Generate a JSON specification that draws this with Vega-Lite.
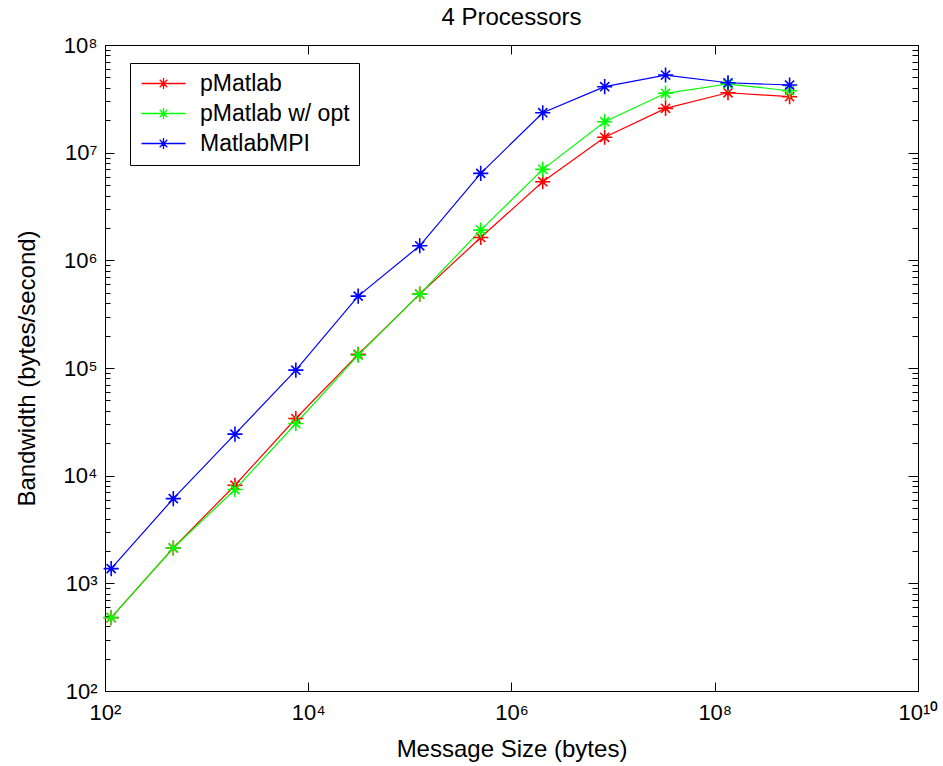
{
  "$schema": "https://vega.github.io/schema/vega-lite/v6.json",
  "width": 813,
  "height": 646,
  "autosize": {"type": "none"},
  "padding": {"left": 105, "top": 45, "right": 25, "bottom": 75},
  "background": "white",
  "config": {
    "view": {"stroke": "black", "strokeWidth": 1},
    "axis": {"grid": false, "domainColor": "black", "tickColor": "black", "labelColor": "black", "labelFont": "Liberation Sans", "titleFont": "Liberation Sans", "titleColor": "black", "titleFontWeight": "normal", "labelFlush": false, "labelOverlap": false, "labelBound": false}
  },
  "title": {"text": "4 Processors", "font": "Liberation Sans", "fontSize": 24, "fontWeight": "normal", "color": "black", "offset": 4},
  "data": {
    "values": [
      {"series": "pMatlab", "size": 115, "bw": 480},
      {"series": "pMatlab", "size": 470, "bw": 2130},
      {"series": "pMatlab", "size": 1900, "bw": 8150},
      {"series": "pMatlab", "size": 7550, "bw": 33950},
      {"series": "pMatlab", "size": 31000, "bw": 134000},
      {"series": "pMatlab", "size": 125000, "bw": 485000},
      {"series": "pMatlab", "size": 498000, "bw": 1630000},
      {"series": "pMatlab", "size": 2030000, "bw": 5370000},
      {"series": "pMatlab", "size": 8260000, "bw": 13900000},
      {"series": "pMatlab", "size": 32800000, "bw": 25800000},
      {"series": "pMatlab", "size": 135000000, "bw": 36000000},
      {"series": "pMatlab", "size": 545000000, "bw": 33100000},
      {"series": "pMatlab w/ opt", "size": 115, "bw": 480},
      {"series": "pMatlab w/ opt", "size": 470, "bw": 2130},
      {"series": "pMatlab w/ opt", "size": 1900, "bw": 7430},
      {"series": "pMatlab w/ opt", "size": 7550, "bw": 30500},
      {"series": "pMatlab w/ opt", "size": 31000, "bw": 131500},
      {"series": "pMatlab w/ opt", "size": 125000, "bw": 485000},
      {"series": "pMatlab w/ opt", "size": 498000, "bw": 1910000},
      {"series": "pMatlab w/ opt", "size": 2030000, "bw": 7000000},
      {"series": "pMatlab w/ opt", "size": 8260000, "bw": 19400000},
      {"series": "pMatlab w/ opt", "size": 32800000, "bw": 35600000},
      {"series": "pMatlab w/ opt", "size": 135000000, "bw": 43400000},
      {"series": "pMatlab w/ opt", "size": 545000000, "bw": 37600000},
      {"series": "MatlabMPI", "size": 115, "bw": 1370},
      {"series": "MatlabMPI", "size": 470, "bw": 6120},
      {"series": "MatlabMPI", "size": 1900, "bw": 24300},
      {"series": "MatlabMPI", "size": 7550, "bw": 95500},
      {"series": "MatlabMPI", "size": 31000, "bw": 465000},
      {"series": "MatlabMPI", "size": 125000, "bw": 1365000},
      {"series": "MatlabMPI", "size": 498000, "bw": 6420000},
      {"series": "MatlabMPI", "size": 2030000, "bw": 23500000},
      {"series": "MatlabMPI", "size": 8260000, "bw": 41000000},
      {"series": "MatlabMPI", "size": 32800000, "bw": 52600000},
      {"series": "MatlabMPI", "size": 135000000, "bw": 44600000},
      {"series": "MatlabMPI", "size": 545000000, "bw": 42500000}
    ]
  },
  "encoding": {
    "color": {
      "field": "series", "type": "nominal",
      "scale": {"domain": ["pMatlab", "pMatlab w/ opt", "MatlabMPI"], "range": ["#ff0000", "#00ff00", "#0000ff"]},
      "legend": {
        "orient": "none", "legendX": 25, "legendY": 18, "title": null,
        "strokeColor": "black", "fillColor": "white", "padding": 9, "cornerRadius": 0,
        "symbolType": "M-2.2,0L2.2,0M0,-0.55L0,0.55M-0.55,0L0.55,0M-0.38,-0.38L0.38,0.38M-0.38,0.38L0.38,-0.38",
        "symbolSize": 400, "symbolStrokeWidth": 1.3, "symbolFillColor": "transparent", "symbolOffset": 13,
        "labelFont": "Liberation Sans", "labelFontSize": 23, "labelColor": "black", "labelOffset": 25,
        "rowPadding": 6, "labelLimit": 400
      }
    }
  },
  "layer": [
    {
      "mark": {"type": "line", "strokeWidth": 1.2},
      "encoding": {
        "x": {"field": "size", "type": "quantitative",
          "scale": {"type": "log", "domain": [100, 10000000000], "nice": false},
          "axis": {"orient": "bottom", "values": [100, 10000, 1000000, 100000000, 10000000000],
            "labelExpr": "round(log(datum.value)/LN10) == 10 ? '10¹⁰' : '10' + ['⁰','¹','²','³','⁴','⁵','⁶','⁷','⁸','⁹'][round(log(datum.value)/LN10)]",
            "tickSize": -9, "labelPadding": 20, "labelFontSize": 22,
            "title": "Message Size (bytes)", "titleFontSize": 24, "titlePadding": 14}},
        "y": {"field": "bw", "type": "quantitative",
          "scale": {"type": "log", "domain": [100, 100000000], "nice": false},
          "axis": {"orient": "left",
            "values": [100,200,300,400,500,600,700,800,900,1000,2000,3000,4000,5000,6000,7000,8000,9000,10000,20000,30000,40000,50000,60000,70000,80000,90000,100000,200000,300000,400000,500000,600000,700000,800000,900000,1000000,2000000,3000000,4000000,5000000,6000000,7000000,8000000,9000000,10000000,20000000,30000000,40000000,50000000,60000000,70000000,80000000,90000000,100000000],
            "labelExpr": "abs(log(datum.value)/LN10 - round(log(datum.value)/LN10)) < 0.000001 ? '10' + ['⁰','¹','²','³','⁴','⁵','⁶','⁷','⁸','⁹'][round(log(datum.value)/LN10)] : ''",
            "tickSize": {"condition": {"test": "abs(log(datum.value)/LN10 - round(log(datum.value)/LN10)) < 0.000001", "value": -9}, "value": -5},
            "labelPadding": 17, "labelFontSize": 22,
            "title": "Bandwidth (bytes/second)", "titleFontSize": 24, "titlePadding": 24}}
      }
    },
    {
      "mark": {"type": "point", "shape": "M-1,0L1,0M0,-1L0,1M-0.6,-0.6L0.6,0.6M-0.6,0.6L0.6,-0.6", "filled": false, "size": 230, "strokeWidth": 1.6, "opacity": 1},
      "encoding": {
        "x": {"field": "size", "type": "quantitative",
          "scale": {"type": "log", "domain": [100, 10000000000], "nice": false},
          "axis": {"orient": "top", "values": [100, 10000, 1000000, 100000000, 10000000000], "labels": false, "tickSize": -9, "title": null}},
        "y": {"field": "bw", "type": "quantitative",
          "scale": {"type": "log", "domain": [100, 100000000], "nice": false},
          "axis": {"orient": "right",
            "values": [100,200,300,400,500,600,700,800,900,1000,2000,3000,4000,5000,6000,7000,8000,9000,10000,20000,30000,40000,50000,60000,70000,80000,90000,100000,200000,300000,400000,500000,600000,700000,800000,900000,1000000,2000000,3000000,4000000,5000000,6000000,7000000,8000000,9000000,10000000,20000000,30000000,40000000,50000000,60000000,70000000,80000000,90000000,100000000],
            "labels": false, "title": null,
            "tickSize": {"condition": {"test": "abs(log(datum.value)/LN10 - round(log(datum.value)/LN10)) < 0.000001", "value": -10}, "value": -6}}}
      }
    }
  ],
  "resolve": {"axis": {"x": "independent", "y": "independent"}}
}
